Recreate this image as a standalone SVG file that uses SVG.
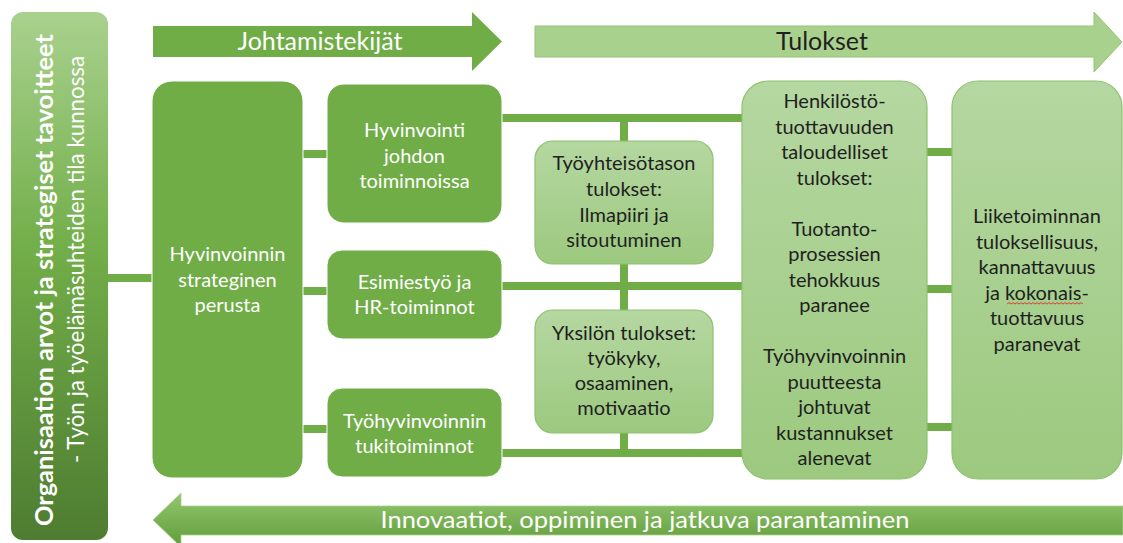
<svg xmlns="http://www.w3.org/2000/svg" width="1123" height="543" viewBox="0 0 1123 543">
  <defs>
    <linearGradient id="leftBarGrad" x1="0" y1="0" x2="0" y2="1">
      <stop offset="0" stop-color="#a9d18e"/>
      <stop offset="0.45" stop-color="#72ae49"/>
      <stop offset="1" stop-color="#4e7c31"/>
    </linearGradient>
    <linearGradient id="lightGrad" x1="0" y1="0" x2="0" y2="1">
      <stop offset="0" stop-color="#b5d7a1"/>
      <stop offset="1" stop-color="#9cc97f"/>
    </linearGradient>
    <linearGradient id="bottomGrad" x1="0" y1="0" x2="0" y2="1">
      <stop offset="0" stop-color="#93c670"/>
      <stop offset="1" stop-color="#609d3a"/>
    </linearGradient>
    <style>
      .dark { fill: #70ad47; stroke: #ffffff; stroke-width: 1; }
      .light { fill: url(#lightGrad); stroke: #8ec26d; stroke-width: 1.2; }
      .conn { stroke: #70ad47; stroke-width: 8; fill: none; }
      .t { font-family: Lato, "Liberation Sans", sans-serif; font-size: 20px; text-anchor: middle; }
      .tw { fill: #ffffff; }
      .tb { fill: #1f1f1f; }
    </style>
  </defs>

  <rect width="1123" height="543" fill="#ffffff"/>

  <!-- Connectors -->
  <g id="connectors">
    <line class="conn" x1="106" y1="278" x2="154" y2="278"/>
    <line class="conn" x1="301" y1="154" x2="329" y2="154"/>
    <line class="conn" x1="301" y1="291" x2="329" y2="291"/>
    <line class="conn" x1="301" y1="429" x2="329" y2="429"/>
    <line class="conn" x1="500" y1="118" x2="744" y2="118"/>
    <line class="conn" x1="500" y1="286" x2="744" y2="286"/>
    <line class="conn" x1="500" y1="453" x2="744" y2="453"/>
    <line class="conn" x1="624" y1="118" x2="624" y2="143"/>
    <line class="conn" x1="624" y1="262" x2="624" y2="312"/>
    <line class="conn" x1="624" y1="431" x2="624" y2="453"/>
    <line class="conn" x1="925" y1="152" x2="954" y2="152"/>
    <line class="conn" x1="925" y1="289" x2="954" y2="289"/>
    <line class="conn" x1="925" y1="427" x2="954" y2="427"/>
  </g>

  <!-- Left vertical bar -->
  <g id="org-goals">
    <rect x="11" y="12" width="97" height="528" rx="12" fill="url(#leftBarGrad)"/>
    <text transform="translate(53,526) rotate(-90)" x="0" y="0" font-family="Lato, 'Liberation Sans', sans-serif" font-size="25" font-weight="bold" fill="#ffffff" textLength="492" lengthAdjust="spacingAndGlyphs">Organisaation arvot ja strategiset tavoitteet</text>
    <text transform="translate(84,463) rotate(-90)" x="0" y="0" font-family="Lato, 'Liberation Sans', sans-serif" font-size="23" fill="#ffffff" textLength="407" lengthAdjust="spacingAndGlyphs">- Työn ja työelämäsuhteiden tila kunnossa</text>
  </g>

  <!-- Top arrows -->
  <g id="arrow-johtamistekijat">
    <polygon points="153,26 472,26 472,12 502,41.5 472,71 472,57 153,57" fill="#70ad47"/>
    <text class="t tw" x="320" y="50" style="font-size:25px">Johtamistekijät</text>
  </g>
  <g id="arrow-tulokset">
    <polygon points="535,26 1094,26 1094,12 1122,42 1094,72 1094,57 535,57" fill="#a9d18e" stroke="#93c474" stroke-width="1"/>
    <text class="t tb" x="822" y="50" style="font-size:25px">Tulokset</text>
  </g>

  <!-- Dark nodes -->
  <g id="node-perusta">
    <rect class="dark" x="152" y="81" width="151" height="397" rx="20"/>
    <text class="t tw" x="227.5" y="261">Hyvinvoinnin</text>
    <text class="t tw" x="227.5" y="286.5">strateginen</text>
    <text class="t tw" x="227.5" y="312">perusta</text>
  </g>
  <g id="node-johto">
    <rect class="dark" x="327" y="84" width="175" height="139" rx="17"/>
    <text class="t tw" x="414.5" y="137">Hyvinvointi</text>
    <text class="t tw" x="414.5" y="162.5">johdon</text>
    <text class="t tw" x="414.5" y="188">toiminnoissa</text>
  </g>
  <g id="node-esimiestyo">
    <rect class="dark" x="327" y="250" width="175" height="89" rx="15"/>
    <text class="t tw" x="414.5" y="288.5">Esimiestyö ja</text>
    <text class="t tw" x="414.5" y="314">HR-toiminnot</text>
  </g>
  <g id="node-tukitoiminnot">
    <rect class="dark" x="327" y="388" width="175" height="89" rx="15"/>
    <text class="t tw" x="414.5" y="427.5">Työhyvinvoinnin</text>
    <text class="t tw" x="414.5" y="452.5">tukitoiminnot</text>
  </g>

  <!-- Light small nodes -->
  <g id="node-tyoyhteiso">
    <rect class="light" x="535" y="141" width="178" height="123" rx="18"/>
    <text class="t tb" x="624" y="170">Työyhteisötason</text>
    <text class="t tb" x="624" y="196">tulokset:</text>
    <text class="t tb" x="624" y="221.5">Ilmapiiri ja</text>
    <text class="t tb" x="624" y="247">sitoutuminen</text>
  </g>
  <g id="node-yksilo">
    <rect class="light" x="535" y="310" width="178" height="123" rx="18"/>
    <text class="t tb" x="624" y="340">Yksilön tulokset:</text>
    <text class="t tb" x="624" y="365">työkyky,</text>
    <text class="t tb" x="624" y="390">osaaminen,</text>
    <text class="t tb" x="624" y="415">motivaatio</text>
  </g>

  <!-- Light big nodes -->
  <g id="node-henkilosto">
    <rect class="light" x="742" y="81" width="185" height="398" rx="26"/>
    <text class="t tb" x="834.5" y="108">Henkilöstö-</text>
    <text class="t tb" x="834.5" y="133.5">tuottavuuden</text>
    <text class="t tb" x="834.5" y="159">taloudelliset</text>
    <text class="t tb" x="834.5" y="184.5">tulokset:</text>
    <text class="t tb" x="834.5" y="235.5">Tuotanto-</text>
    <text class="t tb" x="834.5" y="261">prosessien</text>
    <text class="t tb" x="834.5" y="286.5">tehokkuus</text>
    <text class="t tb" x="834.5" y="312">paranee</text>
    <text class="t tb" x="834.5" y="363">Työhyvinvoinnin</text>
    <text class="t tb" x="834.5" y="388.5">puutteesta</text>
    <text class="t tb" x="834.5" y="414">johtuvat</text>
    <text class="t tb" x="834.5" y="439.5">kustannukset</text>
    <text class="t tb" x="834.5" y="465">alenevat</text>
  </g>
  <g id="node-liiketoiminta">
    <rect class="light" x="952" y="81" width="170" height="398" rx="26"/>
    <text class="t tb" x="1037" y="223">Liiketoiminnan</text>
    <text class="t tb" x="1037" y="248.5">tuloksellisuus,</text>
    <text class="t tb" x="1037" y="274">kannattavuus</text>
    <text class="t tb" x="1037" y="299.5">ja kokonais-</text>
    <text class="t tb" x="1037" y="325">tuottavuus</text>
    <text class="t tb" x="1037" y="350.5">paranevat</text>
    <path d="M1007 304 l2,-1.4 l2,1.4 l2,-1.4 l2,1.4 l2,-1.4 l2,1.4 l2,-1.4 l2,1.4 l2,-1.4 l2,1.4 l2,-1.4 l2,1.4 l2,-1.4 l2,1.4 l2,-1.4 l2,1.4 l2,-1.4 l2,1.4 l2,-1.4 l2,1.4 l2,-1.4 l2,1.4 l2,-1.4 l2,1.4 l2,-1.4 l2,1.4 l2,-1.4 l2,1.4 l2,-1.4 l2,1.4 l2,-1.4 l2,1.4 l2,-1.4 l2,1.4 l2,-1.4 l2,1.4 l2,-1.4 l2,1.4" fill="none" stroke="#e0302a" stroke-width="0.9"/>
  </g>

  <!-- Bottom arrow -->
  <g id="arrow-innovaatiot">
    <polygon points="153,520 181,493 181,506 1123,506 1123,535 181,535 181,547" fill="url(#bottomGrad)" stroke="#a9d18e" stroke-width="0.8"/>
    <text x="645" y="528" font-family="Lato, 'Liberation Sans', sans-serif" font-size="23" fill="#ffffff" text-anchor="middle" textLength="529" lengthAdjust="spacingAndGlyphs">Innovaatiot, oppiminen ja jatkuva parantaminen</text>
  </g>
</svg>
